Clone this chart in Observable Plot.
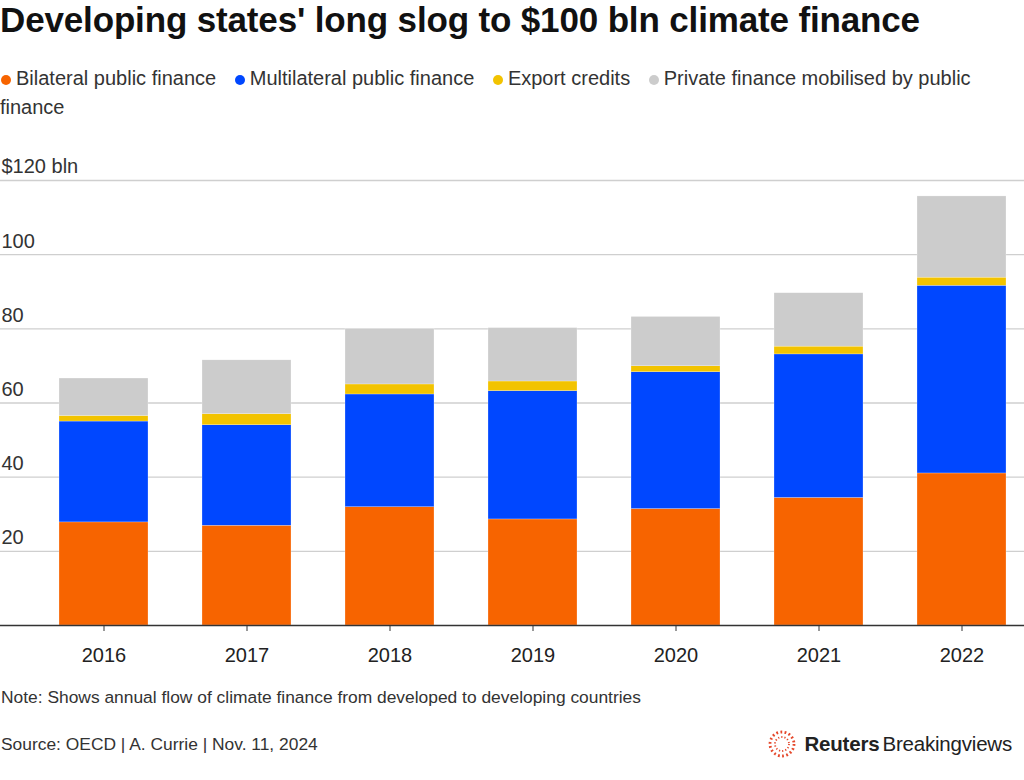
<!DOCTYPE html>
<html>
<head>
<meta charset="utf-8">
<script src="https://cdn.jsdelivr.net/npm/d3@7"></script>
<script src="https://cdn.jsdelivr.net/npm/@observablehq/plot@0.6"></script>
<style>
  html, body { margin: 0; padding: 0; background: #fff; }
  body { width: 1024px; height: 780px; position: relative; overflow: hidden;
         font-family: "Liberation Sans", Arial, Helvetica, sans-serif; color: #222; }
  .title { position: absolute; left: 0; top: 0; font-size: 35px; line-height: 39.5px;
           font-weight: bold; letter-spacing: -0.15px; color: #111; white-space: nowrap; }
  .legend { position: absolute; left: 0; top: 64px; width: 1000px; font-size: 20px;
            line-height: 29px; color: #333; }
  .legend .dot { display: inline-block; width: 10px; height: 10px; border-radius: 50%;
                 margin: 0 5px 0 1px; vertical-align: 0px; }
  .legend .gap { display: inline-block; width: 12px; }
  #chart { position: absolute; left: 0; top: 140px; }
  .note { position: absolute; left: 1px; top: 686px; font-size: 17.4px; line-height: 22px; color: #333; }
  .source { position: absolute; left: 1px; top: 733px; font-size: 17.4px; line-height: 22px; color: #333; }
  .brand { position: absolute; right: 12px; top: 730px; height: 28px; display: flex; align-items: center;
           font-size: 20.5px; color: #222; letter-spacing: -0.2px; }
  .brand svg { margin-right: 8px; }
  .brand b { font-weight: bold; margin-right: 3px; }
</style>
</head>
<body>
<div class="title">Developing states' long slog to $100 bln climate finance</div>
<div class="legend" id="legend"></div>
<div id="chart"></div>
<div class="note">Note: Shows annual flow of climate finance from developed to developing countries</div>
<div class="source">Source: OECD | A. Currie | Nov. 11, 2024</div>
<div class="brand">
  <svg width="28" height="28" viewBox="0 0 28 28">
    <circle cx="14" cy="14" r="12" fill="none" stroke="#e5472a" stroke-width="2.8" stroke-dasharray="1.8 2.4"/>
    <circle cx="14" cy="14" r="7" fill="none" stroke="#e5472a" stroke-width="1.8" stroke-dasharray="1.2 2"/>
  </svg>
  <b>Reuters</b><span>Breakingviews</span>
</div>
<script>
// Annual climate finance flows, $ bln
const years = ["2016", "2017", "2018", "2019", "2020", "2021", "2022"];
const bilateral = [27.8, 26.9, 31.9, 28.6, 31.4, 34.4, 41.0];
const multilateral = [27.2, 27.1, 30.4, 34.6, 36.9, 38.7, 50.6];
const exportCredits = [1.5, 3.0, 2.7, 2.6, 1.6, 2.1, 2.2];
const privateMobilised = [10.1, 14.5, 14.9, 14.4, 13.3, 14.4, 21.9];

const seriesNames = [
  "Bilateral public finance",
  "Multilateral public finance",
  "Export credits",
  "Private finance mobilised by public finance"
];
const seriesColors = ["#f76400", "#0047ff", "#f2c300", "#cccccc"];
const yTicks = [20, 40, 60, 80, 100, 120];

const seriesValues = [bilateral, multilateral, exportCredits, privateMobilised];
const rows = [];
seriesNames.forEach((name, s) => {
  years.forEach((year, i) => rows.push({year, series: name, value: seriesValues[s][i]}));
});

// Legend: coloured dots followed by series names; words are separate spans so
// a long name can wrap onto the next line cleanly
const legend = document.getElementById("legend");
seriesNames.forEach((name, i) => {
  if (i > 0) {
    const gap = document.createElement("span");
    gap.className = "gap";
    legend.appendChild(gap);
  }
  const dot = document.createElement("span");
  dot.className = "dot";
  dot.style.background = seriesColors[i];
  legend.appendChild(dot);
  name.split(" ").forEach(word => {
    const w = document.createElement("span");
    w.textContent = word;
    legend.appendChild(w);
    legend.appendChild(document.createTextNode(" "));
  });
});

const chart = Plot.plot({
  width: 1024,
  height: 540,
  marginTop: 40,
  marginBottom: 55,
  marginLeft: 0,
  marginRight: 0,
  style: {fontFamily: "'Liberation Sans', Arial, Helvetica, sans-serif", color: "#333", background: "white"},
  x: {type: "band", domain: years, range: [58, 1007], paddingInner: 0.376, paddingOuter: 0, label: null},
  y: {domain: [0, 120], label: null, axis: null},
  color: {domain: seriesNames, range: seriesColors},
  marks: [
    Plot.ruleY(yTicks, {stroke: "#cfcfcf", strokeWidth: 1.3}),
    Plot.text(yTicks, {
      y: d => d,
      text: d => d === 120 ? "$120 bln" : String(d),
      frameAnchor: "left",
      textAnchor: "start",
      dx: 1,
      dy: -13.5,
      fontSize: 20,
      fill: "#333"
    }),
    Plot.barY(rows, {
      x: "year",
      y: "value",
      fill: "series",
      order: seriesNames,
      stroke: "white",
      strokeWidth: 0.4,
      strokeOpacity: 0.6
    }),
    Plot.ruleY([0], {stroke: "#333", strokeWidth: 1.5}),
    Plot.axisX({tickSize: 6, tickPadding: 16, fontSize: 20, stroke: "#333", fill: "#222", label: null})
  ]
});
document.getElementById("chart").appendChild(chart);
</script>
</body>
</html>
